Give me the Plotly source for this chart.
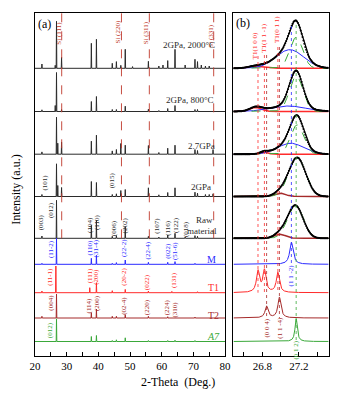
import numpy as np
import plotly.graph_objects as go
from plotly.subplots import make_subplots

FONT = "Liberation Serif, Times New Roman, serif"

# ---- panel (a): XRD patterns, peak 2-theta (deg) and intensity (a.u.)
pos_2000 = [22.2, 26.4, 26.8, 28.4, 37.8, 39.4, 44.4, 45.7, 47.1, 48.5, 50.8, 55.8,
            59.1, 60.4, 61.9, 64.2, 67.4, 70.5, 71.3, 72.5, 73.8, 75.0]
int_2000 = [4.3, 3, 47, 11, 25, 29, 5, 6.7, 3, 19, 1.7, 7,
            2.3, 3.3, 7.7, 19, 3.3, 9, 6.7, 3.3, 2.3, 2.3]
pos_800 = [22.2, 26.4, 26.8, 28.4, 37.8, 39.4, 44.4, 45.7, 48.5, 55.8, 59.1, 61.9, 64.2, 70.5, 71.3]
int_800 = [1.7, 6, 39, 2, 10, 15, 2, 2, 5.3, 2.3, 1, 3, 6, 2, 2]
pos_27 = [22.2, 26.8, 27.2, 28.4, 37.8, 39.4, 44.4, 45.7, 47.1, 48.5, 55.8, 59.1,
          61.9, 64.2, 70.5, 71.3, 76.2]
int_27 = [2.3, 37, 11, 12, 13, 19, 3.3, 4.7, 10.7, 9, 8.7, 1.7,
          6, 9, 4.7, 3.7, 4.7]
pos_2g = [22.2, 26.8, 27.2, 28.4, 37.8, 39.4, 44.4, 45.7, 47.1, 48.5, 55.8, 59.1,
          61.9, 64.2, 70.5, 71.3, 73.8, 75.0, 76.2]
int_2g = [2, 32.7, 11, 9, 15, 14, 2, 2.7, 6, 7, 8.7, 1.7,
          4, 8.7, 4.3, 3.3, 2, 2, 2.7]
pos_raw = [22.2, 26.8, 37.8, 39.4, 44.4, 45.7, 48.5, 55.8, 59.1, 61.9, 64.2, 67.4, 70.5, 71.3]
int_raw = [2.3, 38, 13, 18, 2, 2.7, 11.7, 2, 1.3, 3.3, 5, 1.3, 2.7, 2]
pos_M = [22.2, 26.8, 37.8, 39.4, 44.4, 45.7, 48.5, 55.8, 61.9, 64.2, 70.5]
int_M = [1, 26, 6, 9, 1, 1.7, 4.3, 2, 2, 2.7, 1]
pos_T1 = [22.2, 26.6, 37.3, 39.4, 44.4, 48.5, 55.8, 63.2, 71.3]
int_T1 = [1.7, 26.7, 5, 10, 2, 3.3, 1.7, 1.3, 1]
pos_T2 = [22.2, 26.8, 37.8, 39.4, 44.4, 45.7, 48.5, 55.8, 61.9, 70.5]
int_T2 = [1.7, 24, 5.3, 9, 1.7, 1.7, 3.3, 1.7, 1.3, 1]
pos_A7 = [26.8, 37.8, 39.4, 44.4, 45.7, 48.5, 55.8, 61.9, 64.2, 70.5]
int_A7 = [22.7, 5, 6, 1, 1.7, 3.7, 1, 1, 1.3, 1]

si_pos = [28.44, 47.3, 56.1, 76.4]
si_labels = ["Si (111)", "Si (220)", "Si (311)", "Si (331)"]

# ---- panel (b): fitted components near 27 deg: centre (deg), height, FWHM (deg)
green_c = [27.17, 27.17, 27.18, 27.18, 27.16]
green_h = [31, 36, 29.3, 39, 33]
green_w = [0.165, 0.17, 0.17, 0.22, 0.2]
blue_c = [27.10, 27.08, 27.11, None, None]
blue_h = [18.6, 5.5, 11, None, None]
blue_w = [0.36, 0.45, 0.33, None, None]
red_c = [26.73, 26.73, 26.82, 26.99, 26.99]
red_h = [2, 4, 2, 3.3, 4]
red_w = [0.2, 0.15, 0.1, 0.15, 0.15]

ref_M_c, ref_M_h = [27.118], [22]
ref_T1_c, ref_T1_h = [26.753, 26.823, 26.97], [21.3, 22, 20]
ref_T2_c, ref_T2_h = [26.847, 26.987], [11.7, 20.7]
ref_A7_c, ref_A7_h = [27.17], [23]

# baselines of the stacked curves (plot units = px above the bottom frame)
OFF = dict(h2000=287.7, h800=244.5, g27=201.8, g2=159.5, raw=117.7,
           M=91.7, T1=63.3, T2=38.0, A7=14.5)
BOT, TOP = 356, 13

GREY = "#2b2b2b"
BLUE = "#2b2bff"
RED = "#ff2b2b"
DRED = "#a52a2a"
GREEN = "#3aa83a"
SIRED = "#c0392b"


def yv(px):
    return BOT - px


def sticks(pos, ints, base, hw=0.1):
    xs, ys = [20], [base]
    for p, i in sorted(zip(pos, ints)):
        xs += [p - hw, p, p + hw]
        ys += [base, base + i, base]
    xs.append(80)
    ys.append(base)
    return xs, ys


def gauss(x, c, h, w):
    return h * np.exp(-4 * np.log(2) * ((x - c) / w) ** 2)


def lorentz(x, c, h, w):
    return h / (1 + ((x - c) / (w / 2)) ** 2)


fig = make_subplots(rows=1, cols=2)

patterns = [
    (pos_2000, int_2000, OFF["h2000"], GREY),
    (pos_800, int_800, OFF["h800"], GREY),
    (pos_27, int_27, OFF["g27"], GREY),
    (pos_2g, int_2g, OFF["g2"], GREY),
    (pos_raw, int_raw, OFF["raw"], GREY),
    (pos_M, int_M, OFF["M"], BLUE),
    (pos_T1, int_T1, OFF["T1"], RED),
    (pos_T2, int_T2, OFF["T2"], DRED),
    (pos_A7, int_A7, OFF["A7"], GREEN),
]
for pos, ints, base, col in patterns:
    xs, ys = sticks(pos, ints, base)
    fig.add_trace(go.Scatter(x=xs, y=ys, mode="lines",
                             line=dict(color=col, width=1)), row=1, col=1)

# Si reference lines
for p in si_pos:
    fig.add_trace(go.Scatter(x=[p, p], y=[OFF["raw"], BOT - TOP], mode="lines",
                             line=dict(color=SIRED, width=0.9, dash="dash")),
                  row=1, col=1)

# ---- panel (b)
xb = np.linspace(26.485, 27.525, 420)
rows_b = [OFF["h2000"], OFF["h800"], OFF["g27"], OFF["g2"], OFF["raw"]]
red_cols = [RED, RED, RED, DRED, DRED]
for k, base in enumerate(rows_b):
    g = gauss(xb, green_c[k], green_h[k], green_w[k])
    r = gauss(xb, red_c[k], red_h[k], red_w[k])
    tot = g + r
    fig.add_trace(go.Scatter(x=xb, y=base + r, mode="lines",
                             line=dict(color=red_cols[k], width=1.5)), row=1, col=2)
    if blue_c[k] is not None:
        b = gauss(xb, blue_c[k], blue_h[k], blue_w[k])
        tot = tot + b
        fig.add_trace(go.Scatter(x=xb, y=base + b, mode="lines",
                                 line=dict(color=BLUE, width=1)), row=1, col=2)
    fig.add_trace(go.Scatter(x=xb, y=base + g, mode="lines",
                             line=dict(color=GREEN, width=1, dash="dash")), row=1, col=2)
    fig.add_trace(go.Scatter(x=xb[::4], y=base + tot[::4], mode="markers",
                             marker=dict(color="black", size=2)), row=1, col=2)
    fig.add_trace(go.Scatter(x=xb, y=base + tot, mode="lines",
                             line=dict(color="black", width=1.2)), row=1, col=2)

refs = [(ref_M_c, ref_M_h, OFF["M"], BLUE, 0.045),
        (ref_T1_c, ref_T1_h, OFF["T1"], RED, 0.04),
        (ref_T2_c, ref_T2_h, OFF["T2"], DRED, 0.04),
        (ref_A7_c, ref_A7_h, OFF["A7"], GREEN, 0.03)]
for cs, hs, base, col, w in refs:
    y = sum(lorentz(xb, c, h, w) for c, h in zip(cs, hs))
    fig.add_trace(go.Scatter(x=xb, y=base + y, mode="lines",
                             line=dict(color=col, width=1)), row=1, col=2)

# dotted guide lines in (b)
guides = [(26.753, yv(56), OFF["T1"], RED), (26.823, yv(55), OFF["T1"], RED),
          (26.97, yv(47), OFF["T1"], RED), (26.847, yv(55), OFF["T2"], DRED),
          (26.987, yv(47), OFF["T2"], DRED), (27.118, yv(26), OFF["M"], BLUE),
          (27.17, yv(25), OFF["A7"], GREEN)]
for gx, y0, y1, col in guides:
    fig.add_trace(go.Scatter(x=[gx, gx], y=[y0, y1], mode="lines",
                             line=dict(color=col, width=0.8, dash="dot")), row=1, col=2)

ann = []


def note(text, x, y, ref="", size=7, color=GREY, angle=0, **kw):
    ann.append(dict(text=text, x=x, y=y, xref="x" + ref, yref="y" + ref,
                    xanchor="center", yanchor="middle",
                    showarrow=False, textangle=angle,
                    font=dict(family=FONT, size=size, color=color), **kw))


note("(a)", 22.9, yv(24), size=12, color="black")
note("(b)", 26.585, yv(23), ref="2", size=12, color="black")

for p, t, py in zip(si_pos, si_labels, [33, 32, 33, 36]):
    note(t, p, yv(py), size=7, color=SIRED, angle=-90, xshift=-3)

note("2GPa, 2000°C", 68.7, yv(45), size=9)
note("2GPa, 800°C", 69.0, yv(100), size=9)
note("2.7GPa", 72.5, yv(146), size=9)
note("2GPa", 72.5, yv(187), size=9)
note("Raw", 73.5, yv(220), size=9)
note("material", 72.8, yv(231), size=9)
note("M", 75.8, yv(259), size=10, color=BLUE)
note("T1", 76.3, yv(287), size=10, color=RED)
note("T2", 76.3, yv(315), size=10, color=DRED)
note("<i>A7</i>", 76.3, yv(336.5), size=10, color=GREEN)

hkl = [
    ("(101)", 23.05, 183, GREY), ("(015)", 44.4, 180, GREY),
    ("(003)", 22.0, 222, GREY), ("(012)", 25.1, 210, GREY),
    ("(104)", 37.35, 225, GREY), ("(110)", 39.6, 222, GREY),
    ("(006)", 45.0, 228, GREY), ("(202)", 48.4, 225.5, GREY),
    ("(107)", 58.4, 226, GREY), ("(116)", 61.9, 228, GREY),
    ("(122)", 64.5, 225, GREY), ("(018)", 67.7, 229, GREY),
    ("(11-2)", 25.1, 249, BLUE), ("(110)", 37.36, 247.5, BLUE),
    ("(31-4)", 39.4, 248, BLUE), ("(22-2)", 48.1, 248, BLUE),
    ("(22-4)", 55.8, 250, BLUE), ("(022)", 61.9, 251, BLUE),
    ("(51-6)", 64.2, 251, BLUE),
    ("(11-1)", 24.8, 276.7, RED), ("(111)", 37.2, 275.8, RED),
    ("(200)", 39.4, 276.3, RED), ("(20-2)", 48.1, 276.7, RED),
    ("(022)", 55.2, 281.7, RED), ("(131)", 63.9, 280, RED),
    ("(004)", 24.8, 302.5, DRED), ("(114)", 37.2, 305, DRED),
    ("(200)", 39.8, 303.3, DRED), ("(02-4)", 48.1, 305.8, DRED),
    ("(220)", 55.2, 306.7, DRED), ("(224)", 61.6, 307.5, DRED),
    ("(310)", 63.9, 309.5, DRED),
    ("(012)", 24.8, 330, GREEN),
]
for t, x, py, col in hkl:
    note(t, x, yv(py), size=7, color=col, angle=-90)

note("T1(1 0 0)", 26.714, yv(45.8), ref="2", size=7, color=RED, angle=-90)
note("T1(1 1 -1)", 26.819, yv(38.7), ref="2", size=7, color=RED, angle=-90)
note("T1(0 1 1)", 26.96, yv(29), ref="2", size=7, color=RED, angle=-90)
note("(1 1 -2)", 27.118, yv(275), ref="2", size=7, color=BLUE, angle=-90)
note("(0 0 4)", 26.847, yv(328), ref="2", size=7, color=DRED, angle=-90)
note("(1 1 -4)", 26.984, yv(327.5), ref="2", size=7, color=DRED, angle=-90)
note("(0 1 2)", 27.168, yv(349.5), ref="2", size=7, color=GREEN, angle=-90)

ann.append(dict(text="Intensity (a.u.)", x=10 / 344, y=1 - 190 / 394,
                xref="paper", yref="paper", xanchor="center", yanchor="middle",
                showarrow=False, textangle=-90,
                font=dict(family=FONT, size=12, color="black")))
ann.append(dict(text="2-Theta  (Deg.)", x=178 / 344, y=1 - 382 / 394,
                xref="paper", yref="paper", xanchor="center", yanchor="middle",
                showarrow=False,
                font=dict(family=FONT, size=12, color="black")))

axis_common = dict(showline=True, linecolor="black", linewidth=1, mirror=True,
                   showgrid=False, zeroline=False)
fig.update_layout(
    width=344, height=394,
    margin=dict(l=0, r=0, t=0, b=0),
    paper_bgcolor="white", plot_bgcolor="white",
    showlegend=False,
    font=dict(family=FONT, size=11, color="black"),
    annotations=ann,
    xaxis=dict(domain=[30 / 344, 227 / 344], range=[20, 80], dtick=10,
               ticks="inside", ticklen=4, tickcolor="black",
               minor=dict(dtick=5, ticks="inside", ticklen=4, tickcolor="black"),
               tickfont=dict(family=FONT, size=11), **axis_common),
    xaxis2=dict(domain=[235.7 / 344, 334.3 / 344], range=[26.485, 27.525],
                tick0=26.8, dtick=0.4, ticks="inside", ticklen=4, tickcolor="black",
                minor=dict(dtick=0.2, ticks="inside", ticklen=4, tickcolor="black"),
                tickfont=dict(family=FONT, size=11), **axis_common),
    yaxis=dict(domain=[1 - BOT / 394, 1 - TOP / 394], range=[0, BOT - TOP],
               showticklabels=False, ticks="", **axis_common),
    yaxis2=dict(domain=[1 - BOT / 394, 1 - TOP / 394], range=[0, BOT - TOP],
                showticklabels=False, ticks="", **axis_common),
)

# drop the default page margin so the figure sits at the window's top-left corner
fig.write_html("out.html", config={"displayModeBar": False},
               post_script="document.body.style.margin='0';")
